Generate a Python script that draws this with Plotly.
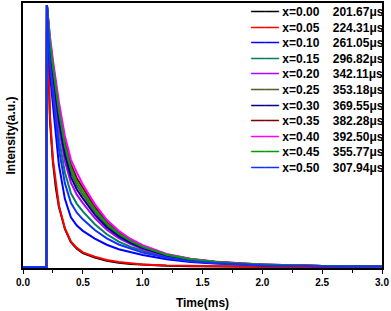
import plotly.graph_objects as go

# ---- data ----
time_ms = [0, 0.195, 0.2, 0.21, 0.225, 0.25, 0.275, 0.3, 0.35, 0.4, 0.45, 0.5,
           0.6, 0.7, 0.8, 0.9, 1.0, 1.2, 1.4, 1.6, 1.8, 2.0, 2.5, 3.0]

compositions = ["x=0.00", "x=0.05", "x=0.10", "x=0.15", "x=0.20", "x=0.25",
                "x=0.30", "x=0.35", "x=0.40", "x=0.45", "x=0.50"]
lifetimes_us = ["201.67", "224.31", "261.05", "296.82", "342.11", "353.18",
                "369.55", "382.28", "392.50", "355.77", "307.94"]

i_x000 = [0, 0, 1.0, 0.78, 0.56, 0.40, 0.30, 0.23, 0.145, 0.095, 0.07, 0.053,
          0.036, 0.024, 0.016, 0.011, 0.008, 0.0045, 0.003, 0.002, 0.0015, 0.001, 0.0005, 0.0003]
i_x005 = [0, 0, 1.0, 0.80, 0.58, 0.41, 0.31, 0.235, 0.148, 0.098, 0.073, 0.056,
          0.039, 0.027, 0.019, 0.013, 0.0095, 0.0055, 0.0035, 0.0025, 0.0018, 0.0012, 0.0006, 0.0003]
i_x010 = [0, 0, 1.0, 0.87, 0.74, 0.62, 0.50, 0.39, 0.26, 0.19, 0.158, 0.138,
          0.108, 0.085, 0.068, 0.056, 0.046, 0.030, 0.019, 0.013, 0.009, 0.006, 0.003, 0.0015]
i_x015 = [0, 0, 1.0, 0.904, 0.799, 0.691, 0.584, 0.491, 0.361, 0.282, 0.241, 0.212,
          0.163, 0.125, 0.097, 0.077, 0.062, 0.038, 0.024, 0.016, 0.011, 0.008, 0.0034, 0.0017]
i_x020 = [0, 0, 1.0, 0.918, 0.824, 0.722, 0.62, 0.534, 0.404, 0.322, 0.276, 0.244,
          0.187, 0.142, 0.11, 0.087, 0.068, 0.042, 0.027, 0.018, 0.012, 0.008, 0.0036, 0.0018]
i_x025 = [0, 0, 1.0, 0.932, 0.849, 0.753, 0.656, 0.577, 0.447, 0.362, 0.312, 0.276,
          0.211, 0.159, 0.123, 0.096, 0.075, 0.046, 0.029, 0.019, 0.013, 0.009, 0.0038, 0.0019]
i_x030 = [0, 0, 1.0, 0.926, 0.838, 0.739, 0.64, 0.558, 0.428, 0.344, 0.296, 0.262,
          0.2, 0.152, 0.117, 0.092, 0.072, 0.044, 0.028, 0.019, 0.0125, 0.0088, 0.0037, 0.0019]
i_x035 = [0, 0, 1.0, 0.944, 0.869, 0.776, 0.684, 0.611, 0.481, 0.392, 0.339, 0.301,
          0.229, 0.172, 0.132, 0.103, 0.08, 0.048, 0.031, 0.020, 0.0136, 0.0097, 0.004, 0.002]
i_x040 = [0, 0, 1.0, 0.95, 0.88, 0.79, 0.70, 0.63, 0.50, 0.41, 0.36, 0.315,
          0.24, 0.18, 0.138, 0.107, 0.083, 0.05, 0.032, 0.021, 0.014, 0.01, 0.004, 0.002]
i_x045 = [0, 0, 1.0, 0.938, 0.859, 0.765, 0.67, 0.594, 0.464, 0.377, 0.325, 0.288,
          0.22, 0.166, 0.128, 0.099, 0.077, 0.047, 0.030, 0.020, 0.013, 0.0094, 0.0039, 0.0019]
i_x050 = [0, 0, 1.0, 0.89, 0.775, 0.662, 0.55, 0.45, 0.32, 0.245, 0.207, 0.182,
          0.141, 0.109, 0.086, 0.069, 0.055, 0.035, 0.022, 0.015, 0.010, 0.007, 0.003, 0.0015]

intensities = [i_x000, i_x005, i_x010, i_x015, i_x020, i_x025,
               i_x030, i_x035, i_x040, i_x045, i_x050]

# ---- styles ----
colors = ["#000000", "#FF0000", "#0000FF", "#008060", "#B000FF", "#4F6228",
          "#000090", "#800000", "#FF00FF", "#00A000", "#1030FF"]

FONT = "Arial, Liberation Sans, sans-serif"

fig = go.Figure()
for name, ys, c in zip(compositions, intensities, colors):
    fig.add_trace(go.Scatter(x=time_ms, y=ys, mode="lines", name=name,
                             line=dict(color=c, width=2), showlegend=False))

# legend built as text (rows spaced like the reference)
rows = []
for name, lt, c in zip(compositions, lifetimes_us, colors):
    rows.append(f'<span style="color:{c};font-size:14px">——</span>\u00a0{name}\u00a0\u00a0\u00a0\u00a0{lt}μs')
fig.add_annotation(text="<br>".join(rows), xref="paper", yref="paper",
                   x=0.6295, y=1.0075, xanchor="left", yanchor="top",
                   align="left", showarrow=False,
                   font=dict(family=FONT, size=12, color="black", weight="bold"))

fig.update_layout(
    width=391, height=311,
    margin=dict(l=23, r=9, t=3, b=43, autoexpand=False),
    paper_bgcolor="white", plot_bgcolor="white",
    font=dict(family=FONT, size=12, color="black", weight="bold"),
    showlegend=False,
)
fig.update_xaxes(range=[0, 3], tickvals=[0, 0.5, 1.0, 1.5, 2.0, 2.5, 3.0],
                 ticktext=["0.0", "0.5", "1.0", "1.5", "2.0", "2.5", "3.0"],
                 ticks="outside", ticklen=4, tickwidth=1.2, tickcolor="black",
                 minor=dict(tickvals=[0.25, 0.75, 1.25, 1.75, 2.25, 2.75],
                            ticks="outside", ticklen=3, tickwidth=1.2, tickcolor="black"),
                 showline=True, linecolor="black", linewidth=1.6, mirror=True,
                 showgrid=False, zeroline=False, automargin=False,
                 tickfont=dict(family=FONT, size=10, weight="bold"),
                 title=dict(text="Time(ms)", font=dict(family=FONT, size=12, weight="bold"),
                            standoff=12))
fig.update_yaxes(range=[-0.0038, 1.0076], showticklabels=False, ticks="",
                 showline=True, linecolor="black", linewidth=1.6, mirror=True,
                 showgrid=False, zeroline=False, automargin=False,
                 title=dict(text="Intensity(a.u.)", font=dict(family=FONT, size=12, weight="bold"),
                            standoff=3))

fig.write_html("out.html", config={"displayModeBar": False},
               post_script="document.body.style.margin='0px';")
